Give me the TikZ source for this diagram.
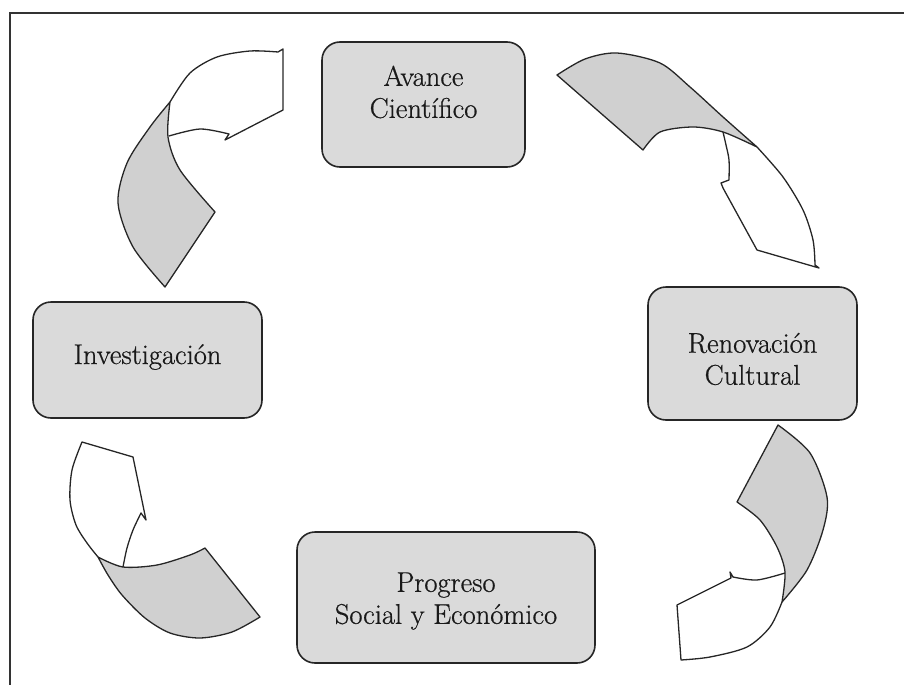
\documentclass[tikz,border=0pt]{standalone}
\usepackage{fontspec}
\newfontfamily\boxfont{Latin Modern Roman}[FakeBold=0.6]
\definecolor{boxgray}{RGB}{218,218,218}
\definecolor{ribbongray}{RGB}{208,208,208}
\begin{document}
\begin{tikzpicture}[x=1pt,y=-1pt,
  box/.style={draw=black!85, line width=1.6pt, fill=boxgray, rounded corners=18pt, inner sep=0pt},
  lbl/.style={align=center, font=\boxfont\fontsize{28.5}{32}\selectfont, text=black!90, inner sep=0pt},
  ribbon/.style={draw=black!85, line width=1.3pt, line join=round},
  back/.style={ribbon, fill=ribbongray}]
\useasboundingbox (0,0) rectangle (904,685);
\draw[line width=1.5pt, black!80] (904,13) -- (10,13) -- (10,685);

% boxes
\node[box, minimum width=203pt, minimum height=125pt] (avance) at (423.5,104.5) {};
\node[lbl] (avanceT) at (423.5,92) {Avance\\Científico};
\node[box, minimum width=209pt, minimum height=133pt] (renov) at (752.5,353.5) {};
\node[lbl] (renovT) at (752.5,359) {Renovación\\Cultural};
\node[box, minimum width=298pt, minimum height=131pt] (progreso) at (446,597.5) {};
\node[lbl] (progresoT) at (446,601) {Progreso\\Social y Económico};
\node[box, minimum width=229pt, minimum height=116pt] (invest) at (147.5,360) {};
\node[lbl] (investT) at (147.5,357) {Investigación};

% top-left ribbon arrow
\path[back] plot[smooth] coordinates {(165,287) (133,247) (118,203) (127,163) (150,127) (170,102)}
  -- plot[smooth] coordinates {(170,102) (168,137) (180,170) (215,212)} -- cycle;
\path[ribbon] plot[smooth] coordinates {(170,102) (190,73) (217,57) (250,51) (278,52)}
  -- (283,49) -- (283,110) -- (225,140) -- (229,134)
  -- plot[smooth] coordinates {(229,134) (200,129) (169,136)};

% top-right ribbon arrow
\path[back] plot[smooth] coordinates {(557,75) (585,59) (617,53) (660,63) (690,87) (723,117) (757,147)}
  -- plot[smooth] coordinates {(757,147) (723,132) (693,127) (660,132) (643,150)} -- cycle;
\path[ribbon] plot[smooth] coordinates {(757,147) (783,177) (803,210) (813,240) (815,265)}
  -- (819,268) -- (757,250) -- (723,188) -- (721,183) -- (729,180)
  -- plot[smooth] coordinates {(729,180) (729,160) (726,145) (723,132)};

% bottom-right ribbon arrow
\path[back] (778,425) -- (737,502)
  -- plot[smooth] coordinates {(737,502) (760,520) (777,547) (785,572) (782,602)}
  -- plot[smooth] coordinates {(782,602) (807,570) (823,530) (827,497) (810,453) (778,425)} -- cycle;
\path[ribbon] plot[smooth] coordinates {(785,573) (757,580) (733,577)}
  -- (730,572) -- (731,578) -- (677,605) -- (681,660)
  -- plot[smooth] coordinates {(681,660) (710,657) (747,647) (770,627) (782,602)};

% bottom-left ribbon arrow
\path[back] plot[smooth] coordinates {(98,557) (123,567) (157,565) (190,555) (205,548)}
  -- (260,617)
  -- plot[smooth] coordinates {(260,617) (232,632) (200,638) (170,633) (145,618) (122,595) (108,575) (98,557)} -- cycle;
\path[ribbon] plot[smooth] coordinates {(98,557) (87,543) (76,525) (70,500) (72,470) (82,442)}
  -- (133,457) -- (146,520) -- (141,513)
  -- plot[smooth] coordinates {(141,513) (133,530) (127,548) (123,567)};
\end{tikzpicture}
\end{document}
